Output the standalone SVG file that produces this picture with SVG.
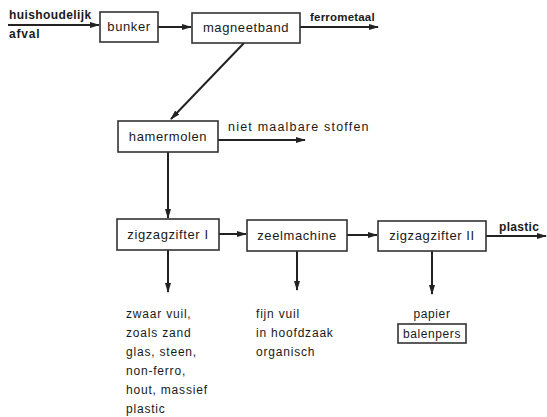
<svg xmlns="http://www.w3.org/2000/svg" width="547" height="417" viewBox="0 0 547 417">
<defs>
<marker id="ah" markerWidth="10" markerHeight="8" refX="9" refY="4" orient="auto" markerUnits="userSpaceOnUse">
<path d="M0,1 L10,4 L0,7 Z" fill="#222"/>
</marker>
<style>
.box{fill:#fff;stroke:#333;stroke-width:1.6}
.lbl{font-family:"Liberation Sans",Arial,sans-serif;font-size:13px;fill:#1a1a1a;text-anchor:middle;letter-spacing:0.6px}
.side{font-family:"Liberation Sans",Arial,sans-serif;font-size:12px;fill:#1a1a1a;letter-spacing:0.8px}
.bold{font-weight:bold}
.ln{stroke:#222;stroke-width:2;fill:none}
</style>
</defs>
<rect width="547" height="417" fill="#fff"/>
<g id="connectors">
<line class="ln" x1="8" y1="25" x2="99" y2="25" marker-end="url(#ah)"/>
<line class="ln" x1="158" y1="27" x2="191" y2="27" marker-end="url(#ah)"/>
<line class="ln" x1="300" y1="27" x2="378" y2="27" marker-end="url(#ah)"/>
<line class="ln" x1="244" y1="43" x2="171" y2="119" marker-end="url(#ah)"/>
<line class="ln" x1="218" y1="140" x2="305" y2="140" marker-end="url(#ah)"/>
<line class="ln" x1="168" y1="152" x2="168" y2="218" marker-end="url(#ah)"/>
<line class="ln" x1="219" y1="234" x2="246" y2="234" marker-end="url(#ah)"/>
<line class="ln" x1="347" y1="235" x2="377" y2="235" marker-end="url(#ah)"/>
<line class="ln" x1="486" y1="236" x2="546" y2="236" marker-end="url(#ah)"/>
<line class="ln" x1="168" y1="250" x2="168" y2="292" marker-end="url(#ah)"/>
<line class="ln" x1="297" y1="251" x2="297" y2="290" marker-end="url(#ah)"/>
<line class="ln" x1="432" y1="251" x2="432" y2="294" marker-end="url(#ah)"/>
</g>
<g id="input">
<text class="side bold" x="9" y="19" style="letter-spacing:0.4px">huishoudelijk</text>
<text class="side bold" x="9" y="38">afval</text>
</g>
<g id="bunker">
<rect class="box" x="100" y="12" width="58" height="30"/>
<text class="lbl" x="129" y="31">bunker</text>
</g>
<g id="magneetband">
<rect class="box" x="192" y="13" width="108" height="30"/>
<text class="lbl" x="246" y="32">magneetband</text>
</g>
<g id="ferrometaal">
<text class="side bold" x="310" y="21" style="letter-spacing:0.2px;font-size:11.5px">ferrometaal</text>
</g>
<g id="hamermolen">
<rect class="box" x="118" y="121" width="100" height="31"/>
<text class="lbl" x="168" y="141">hamermolen</text>
</g>
<g id="niet-maalbaar">
<text class="side" x="228" y="131" style="letter-spacing:1.2px;font-size:12.5px">niet maalbare stoffen</text>
</g>
<g id="zigzagzifter1">
<rect class="box" x="117" y="219" width="102" height="31"/>
<text class="lbl" x="168" y="239">zigzagzifter I</text>
</g>
<g id="zeelmachine">
<rect class="box" x="247" y="220" width="100" height="31"/>
<text class="lbl" x="297" y="240">zeelmachine</text>
</g>
<g id="zigzagzifter2">
<rect class="box" x="378" y="221" width="108" height="30"/>
<text class="lbl" x="432" y="240">zigzagzifter II</text>
</g>
<g id="plastic-out">
<text class="side bold" x="499" y="231" style="letter-spacing:0.3px">plastic</text>
</g>
<g id="zwaar-vuil">
<text class="side" x="126" y="318">zwaar vuil,</text>
<text class="side" x="126" y="337">zoals zand</text>
<text class="side" x="126" y="356">glas, steen,</text>
<text class="side" x="126" y="375">non-ferro,</text>
<text class="side" x="126" y="394">hout, massief</text>
<text class="side" x="126" y="413">plastic</text>
</g>
<g id="fijn-vuil">
<text class="side" x="256" y="318">fijn vuil</text>
<text class="side" x="256" y="337">in hoofdzaak</text>
<text class="side" x="256" y="356">organisch</text>
</g>
<g id="balenpers">
<text class="lbl" x="432" y="318" style="font-size:12px">papier</text>
<rect class="box" x="398" y="324" width="68" height="19"/>
<text class="lbl" x="432" y="338" style="font-size:12px">balenpers</text>
</g>
</svg>
